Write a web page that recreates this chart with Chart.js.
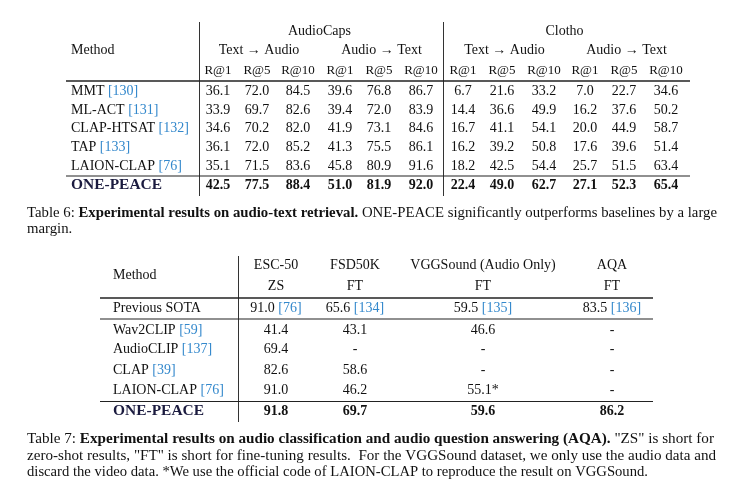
<!DOCTYPE html>
<html><head><meta charset="utf-8">
<script src="https://cdn.jsdelivr.net/npm/chart.js@4"></script>
<style>html,body{margin:0;padding:0;background:#fff;}canvas{display:block;}</style>
</head><body>
<canvas id="c" width="748" height="489"></canvas>
<script>
// ---------- DATA ----------
const datasets6 = ["AudioCaps", "Clotho"];
const directions6 = ["Text \u2192 Audio", "Audio \u2192 Text"];
const metrics6 = ["R@1", "R@5", "R@10"];
const methods6 = ["MMT", "ML-ACT", "CLAP-HTSAT", "TAP", "LAION-CLAP", "ONE-PEACE"];
const refs6 = ["130", "131", "132", "133", "76", null];
const audioCapsT2A = [[36.1,72.0,84.5],[33.9,69.7,82.6],[34.6,70.2,82.0],[36.1,72.0,85.2],[35.1,71.5,83.6],[42.5,77.5,88.4]];
const audioCapsA2T = [[39.6,76.8,86.7],[39.4,72.0,83.9],[41.9,73.1,84.6],[41.3,75.5,86.1],[45.8,80.9,91.6],[51.0,81.9,92.0]];
const clothoT2A = [[6.7,21.6,33.2],[14.4,36.6,49.9],[16.7,41.1,54.1],[16.2,39.2,50.8],[18.2,42.5,54.4],[22.4,49.0,62.7]];
const clothoA2T = [[7.0,22.7,34.6],[16.2,37.6,50.2],[20.0,44.9,58.7],[17.6,39.6,51.4],[25.7,51.5,63.4],[27.1,52.3,65.4]];

const tasks7 = ["ESC-50", "FSD50K", "VGGSound (Audio Only)", "AQA"];
const settings7 = ["ZS", "FT", "FT", "FT"];
const sotaLabel = "Previous SOTA";
const sotaValues = [91.0, 65.6, 59.5, 83.5];
const sotaRefs = ["76", "134", "135", "136"];
const methods7 = ["Wav2CLIP", "AudioCLIP", "CLAP", "LAION-CLAP", "ONE-PEACE"];
const refs7 = ["59", "137", "39", "76", null];
const esc50 = [41.4, 69.4, 82.6, 91.0, 91.8];
const fsd50k = [43.1, null, 58.6, 46.2, 69.7];
const vggsound = [46.6, null, null, 55.1, 59.6];
const vggsoundNotes = ["", "", "", "*", ""];
const aqa = [null, null, null, null, 86.2];

const caption6 = [
  [["Table 6: ", false], ["Experimental results on audio-text retrieval.", true], [" ONE-PEACE significantly outperforms baselines by a large", false]],
  [["margin.", false]]
];
const caption7 = [
  [["Table 7: ", false], ["Experimental results on audio classification and audio question answering (AQA).", true], [" \"ZS\" is short for", false]],
  [["zero-shot results, \"FT\" is short for fine-tuning results.  For the VGGSound dataset, we only use the audio data and", false]],
  [["discard the video data. *We use the official code of LAION-CLAP to reproduce the result on VGGSound.", false]]
];

// ---------- LAYOUT (positions in canvas units, mapped through the chart's scales) ----------
const L6 = {
  methodX: 71, cols: [218,257,298,340,379,421,463,502,544,585,624,666],
  vlines: [199, 443], vTop: 22, vBot: 196,
  yGroup: 31, yDir: 50, yMetric: 71, hThick: 81, lineL: 66, lineR: 690,
  rows: [91,110,128.5,147,166], hThin: 176, yLast: 185
};
const L7 = {
  methodX: 113, cols: [276,355,483,612],
  vline: 238, vTop: 256, vBot: 422,
  yHead1: 265, yHead2: 286, hThick: 298, lineL: 100, lineR: 653,
  ySota: 308.5, hThin1: 319, rows: [330,349.5,370,390], hThin2: 401.5, yLast: 411
};
const CAP = { x: 27, y6: [213, 229.5], r6: [717, null], y7: [439.5, 456, 472.5], r7: [714, 716, 648], size: 15 };

const BLACK = "#111", BLUE = "#3388cc", NAVY = "#1b1b3f";
const FONT = "'Liberation Serif', 'Times New Roman', serif";
const fmt = v => v == null ? "-" : v.toFixed(1);

function drawRuns(ctx, runs, x, y, align, fitW, size, forceSx) {
  size = size || 14;
  let total = 0;
  const ws = runs.map(r => { ctx.font = (r.b ? "bold " : "") + size + "px " + FONT; const w = ctx.measureText(r.t).width; total += w; return w; });
  let sx = forceSx || 1;
  if (fitW) sx = fitW / total;
  let start = align === "center" ? x - total * sx / 2 : x;
  ctx.save();
  ctx.translate(start, y);
  ctx.scale(sx, 1);
  let cx = 0;
  runs.forEach((r, i) => {
    ctx.font = (r.b ? "bold " : "") + size + "px " + FONT;
    ctx.fillStyle = r.c || BLACK;
    ctx.textAlign = "left";
    ctx.textBaseline = "middle";
    ctx.fillText(r.t, cx, 0);
    cx += ws[i];
  });
  ctx.restore();
  return sx;
}
function methodRuns(name, ref) {
  if (name === "ONE-PEACE") return [{ t: name, b: true, c: NAVY }];
  const r = [{ t: name + " " }];
  if (ref) r.push({ t: "[" + ref + "]", c: BLUE });
  return r;
}

const tablePlugin = {
  id: "tables",
  beforeDraw(chart) {
    const c = chart.ctx; c.save(); c.fillStyle = "#fff"; c.fillRect(0, 0, chart.width, chart.height); c.restore();
  },
  afterDraw(chart) {
    const ctx = chart.ctx, xs = chart.scales.x, ys = chart.scales.y;
    const X = v => xs.getPixelForValue(v), Y = v => ys.getPixelForValue(v);
    const hline = (y, x1, x2, w) => { ctx.beginPath(); ctx.strokeStyle = "#222"; ctx.lineWidth = w; ctx.moveTo(X(x1), Y(y)); ctx.lineTo(X(x2), Y(y)); ctx.stroke(); };
    const vline = (x, y1, y2) => { ctx.beginPath(); ctx.strokeStyle = "#333"; ctx.lineWidth = 1; ctx.moveTo(X(x) + 0.5, Y(y1)); ctx.lineTo(X(x) + 0.5, Y(y2)); ctx.stroke(); };

    // ---- Table 6 ----
    L6.vlines.forEach(x => vline(x, L6.vTop, L6.vBot));
    drawRuns(ctx, [{ t: "Method" }], X(L6.methodX), Y(L6.yDir), "left");
    datasets6.forEach((d, di) => {
      const c0 = L6.cols[di * 6], c5 = L6.cols[di * 6 + 5];
      drawRuns(ctx, [{ t: d }], X((c0 + c5) / 2), Y(L6.yGroup), "center");
      directions6.forEach((dir, ri) => {
        const a = L6.cols[di * 6 + ri * 3], b = L6.cols[di * 6 + ri * 3 + 2];
        drawRuns(ctx, [{ t: dir }], X((a + b) / 2 + 1), Y(L6.yDir), "center");
        metrics6.forEach((m, mi) => drawRuns(ctx, [{ t: m }], X(L6.cols[di * 6 + ri * 3 + mi]), Y(L6.yMetric), "center", null, 13));
      });
    });
    hline(L6.hThick, L6.lineL, L6.lineR, 1.6);
    const blocks6 = [audioCapsT2A, audioCapsA2T, clothoT2A, clothoA2T];
    methods6.forEach((m, i) => {
      const last = i === methods6.length - 1;
      const y = Y(last ? L6.yLast : L6.rows[i]);
      drawRuns(ctx, methodRuns(m, refs6[i]), X(L6.methodX), y, "left", last ? 91 : null);
      blocks6.forEach((blk, bi) => blk[i].forEach((v, k) =>
        drawRuns(ctx, [{ t: fmt(v), b: last }], X(L6.cols[bi * 3 + k]), y, "center")));
    });
    hline(L6.hThin, L6.lineL, L6.lineR, 1.1);

    // caption 6
    let sx = 1;
    caption6.forEach((line, li) => {
      const runs = line.map(([t, b]) => ({ t, b }));
      const r = CAP.r6[li];
      sx = drawRuns(ctx, runs, X(CAP.x), Y(CAP.y6[li]), "left", r ? X(r) - X(CAP.x) : null, CAP.size, sx);
    });

    // ---- Table 7 ----
    vline(L7.vline, L7.vTop, L7.vBot);
    drawRuns(ctx, [{ t: "Method" }], X(L7.methodX), Y((L7.yHead1 + L7.yHead2) / 2), "left");
    tasks7.forEach((t, i) => {
      drawRuns(ctx, [{ t }], X(L7.cols[i]), Y(L7.yHead1), "center");
      drawRuns(ctx, [{ t: settings7[i] }], X(L7.cols[i]), Y(L7.yHead2), "center");
    });
    hline(L7.hThick, L7.lineL, L7.lineR, 1.6);
    drawRuns(ctx, [{ t: sotaLabel }], X(L7.methodX), Y(L7.ySota), "left");
    sotaValues.forEach((v, i) => drawRuns(ctx, [{ t: fmt(v) + " " }, { t: "[" + sotaRefs[i] + "]", c: BLUE }], X(L7.cols[i]), Y(L7.ySota), "center"));
    hline(L7.hThin1, L7.lineL, L7.lineR, 1.1);
    const cols7 = [esc50, fsd50k, vggsound, aqa];
    methods7.forEach((m, i) => {
      const last = i === methods7.length - 1;
      const y = Y(last ? L7.yLast : L7.rows[i]);
      drawRuns(ctx, methodRuns(m, refs7[i]), X(L7.methodX), y, "left", last ? 91 : null);
      cols7.forEach((col, ci) => {
        const note = ci === 2 ? vggsoundNotes[i] : "";
        drawRuns(ctx, [{ t: fmt(col[i]) + note, b: last }], X(L7.cols[ci]), y, "center");
      });
    });
    hline(L7.hThin2, L7.lineL, L7.lineR, 1.1);

    // caption 7
    caption7.forEach((line, li) => {
      const runs = line.map(([t, b]) => ({ t, b }));
      drawRuns(ctx, runs, X(CAP.x), Y(CAP.y7[li]), "left", X(CAP.r7[li]) - X(CAP.x), CAP.size);
    });
  }
};

new Chart(document.getElementById("c").getContext("2d"), {
  type: "scatter",
  data: { datasets: [] },
  options: {
    responsive: false, animation: false, events: [],
    layout: { padding: 0 },
    plugins: { legend: { display: false }, tooltip: { enabled: false }, title: { display: false } },
    scales: {
      x: { type: "linear", min: 0, max: 748, display: false },
      y: { type: "linear", min: 0, max: 489, reverse: true, display: false }
    }
  },
  plugins: [tablePlugin]
});
</script>
</body></html>
